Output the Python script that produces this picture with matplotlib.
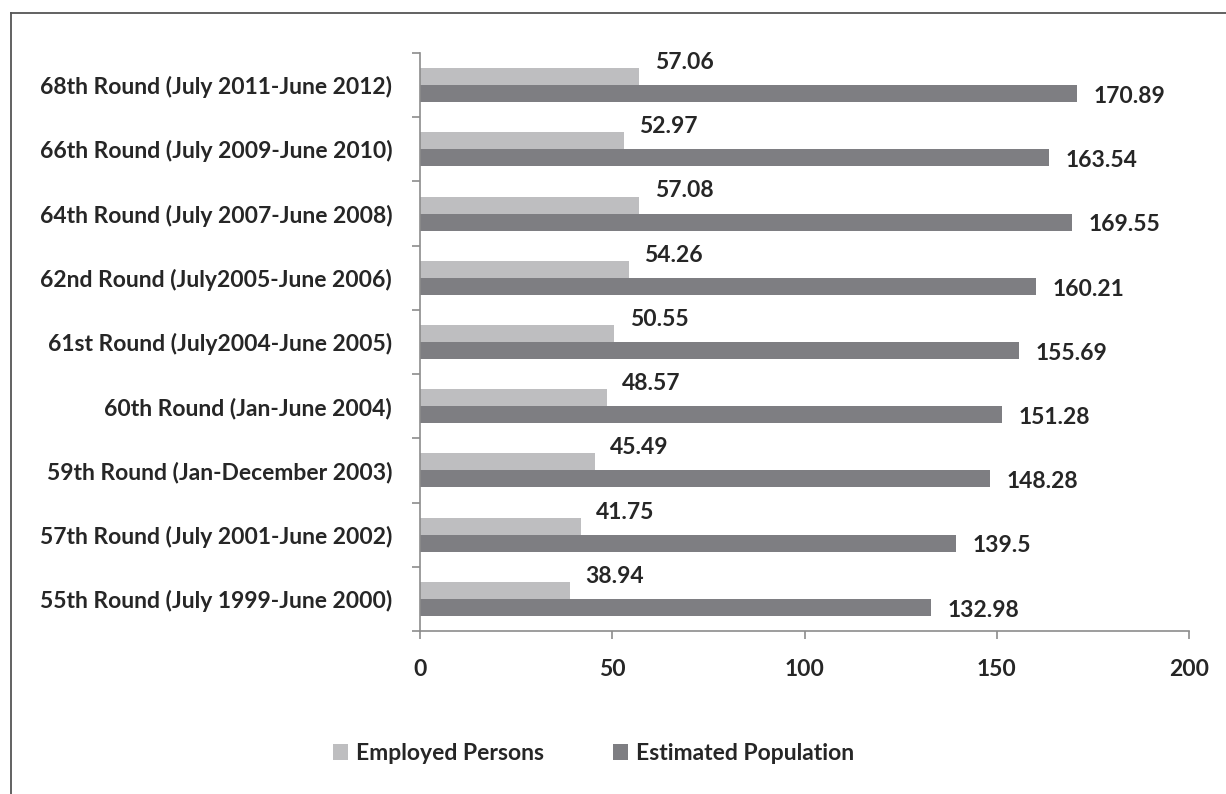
import matplotlib.pyplot as plt
import numpy as np
from matplotlib.lines import Line2D

plt.rcParams['font.family'] = ['Lato', 'DejaVu Sans']

rounds = [
    '68th Round (July 2011-June 2012)',
    '66th Round (July 2009-June 2010)',
    '64th Round (July 2007-June 2008)',
    '62nd Round (July2005-June 2006)',
    '61st Round (July2004-June 2005)',
    '60th Round (Jan-June 2004)',
    '59th Round (Jan-December 2003)',
    '57th Round (July 2001-June 2002)',
    '55th Round (July 1999-June 2000)',
]
employed = [57.06, 52.97, 57.08, 54.26, 50.55, 48.57, 45.49, 41.75, 38.94]
population = [170.89, 163.54, 169.55, 160.21, 155.69, 151.28, 148.28, 139.5, 132.98]
employed_labels = ['57.06', '52.97', '57.08', '54.26', '50.55', '48.57', '45.49', '41.75', '38.94']
population_labels = ['170.89', '163.54', '169.55', '160.21', '155.69', '151.28', '148.28', '139.5', '132.98']

light = '#bebec0'
dark = '#7e7e82'
text_col = '#262626'
axis_col = '#8c8c8c'
fs = 16.5

fig = plt.figure(figsize=(12.26, 7.94), dpi=100)
ax = fig.add_axes([0.3426, 0.2053, 0.6272, 0.728])

y = np.arange(len(rounds))
h = 0.265
ax.barh(y - h / 2, employed, height=h, color=light, label='Employed Persons')
ax.barh(y + h / 2, population, height=h, color=dark, label='Estimated Population')

for i in range(len(rounds)):
    ax.annotate(employed_labels[i], xy=(employed[i], y[i] - h), xytext=(11, 4),
                textcoords='offset points', ha='left', va='center',
                fontsize=fs, fontweight='bold', color=text_col)
    ax.annotate(population_labels[i], xy=(population[i], y[i] + h / 2), xytext=(12, -2),
                textcoords='offset points', ha='left', va='center',
                fontsize=fs, fontweight='bold', color=text_col)

ax.set_xlim(0, 200)
ax.set_ylim(len(rounds) - 0.5, -0.5)
ax.set_xticks([0, 50, 100, 150, 200])
ax.set_yticks(y)
ax.set_yticklabels(rounds)
ax.set_yticks(np.arange(-0.5, len(rounds), 1), minor=True)
ax.tick_params(axis='y', which='major', length=0, pad=20, labelsize=fs, labelcolor=text_col)
ax.tick_params(axis='y', which='minor', length=6, width=1.2, color=axis_col)
ax.tick_params(axis='x', length=6, width=1.2, color=axis_col, pad=14, labelsize=fs, labelcolor=text_col)
for lab in ax.get_xticklabels() + ax.get_yticklabels():
    lab.set_fontweight('bold')

for side in ['top', 'right']:
    ax.spines[side].set_visible(False)
for side in ['left', 'bottom']:
    ax.spines[side].set_color(axis_col)
    ax.spines[side].set_linewidth(1.2)

leg = fig.legend(loc='center', bbox_to_anchor=(0.484, 0.051), ncol=2, frameon=False,
                 handlelength=0.67, handleheight=0.67, handletextpad=0.35, columnspacing=3.0,
                 prop={'size': fs, 'weight': 'bold'})
for t in leg.get_texts():
    t.set_color(text_col)

# outer chart border (runs off the right and bottom of the image)
fig.add_artist(Line2D([11 / 1226, 1.0], [1 - 13 / 794, 1 - 13 / 794], color='#555555', lw=1.3))
fig.add_artist(Line2D([11 / 1226, 11 / 1226], [0.0, 1 - 13 / 794], color='#555555', lw=1.3))

fig.savefig('out.png', dpi=100)
